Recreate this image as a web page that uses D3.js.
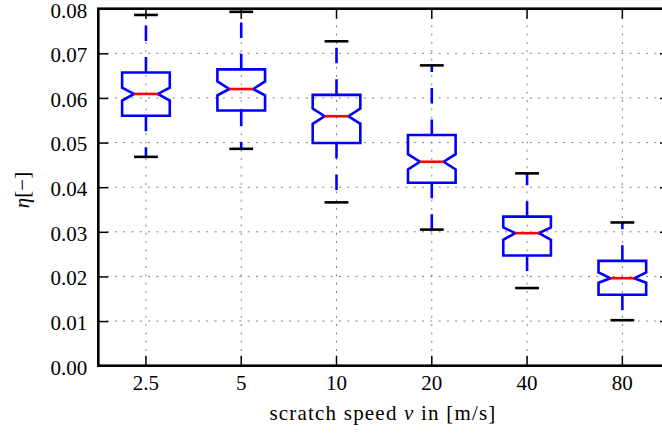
<!DOCTYPE html>
<html>
<head>
<meta charset="utf-8">
<script src="https://cdn.jsdelivr.net/npm/d3@7/dist/d3.min.js"></script>
<style>
  html, body { margin: 0; padding: 0; background: #fff; }
  svg { display: block; }
</style>
</head>
<body>
<svg id="chart" width="662" height="433"></svg>
<script>
// ---- data ----
const categories   = ["2.5", "5", "10", "20", "40", "80"];
const whiskerLow   = [0.0468, 0.0486, 0.0366, 0.0305, 0.0174, 0.0102];
const q1           = [0.0560, 0.0572, 0.0499, 0.0410, 0.0247, 0.0159];
const median       = [0.0609, 0.0620, 0.0559, 0.0457, 0.0297, 0.0196];
const q3           = [0.0657, 0.0664, 0.0607, 0.0517, 0.0334, 0.0235];
const whiskerHigh  = [0.0786, 0.0793, 0.0727, 0.0673, 0.0431, 0.0321];
const notchLow     = [0.0594, 0.0606, 0.0542, 0.0440, 0.0282, 0.0186];
const notchHigh    = [0.0623, 0.0637, 0.0576, 0.0474, 0.0310, 0.0209];
const yTicks       = [0, 0.01, 0.02, 0.03, 0.04, 0.05, 0.06, 0.07, 0.08];

const FONT = '"Liberation Serif", serif';
const FS = "21px";

const svg = d3.select("#chart");
const L = 98.3, R = 670, T = 8.7, B = 365.7;

const x = d3.scaleBand().domain(categories).range([L, R]).padding(0);
const y = d3.scaleLinear().domain([0, 0.08]).range([B, T]);
const cx = c => x(c) + x.bandwidth() / 2;
const bw = x.bandwidth() * 0.5;

// grid
const grid = svg.append("g");
grid.selectAll("line.gy").data(yTicks).join("line")
  .attr("x1", L).attr("x2", R).attr("y1", d => y(d)).attr("y2", d => y(d))
  .attr("stroke", "#808080").attr("stroke-width", 1).attr("stroke-dasharray", "2,6.3");
grid.selectAll("line.gx").data(categories).join("line")
  .attr("x1", cx).attr("x2", cx).attr("y1", T).attr("y2", B)
  .attr("stroke", "#808080").attr("stroke-width", 1).attr("stroke-dasharray", "2,6.3");

// boxes
const boxes = categories.map((c, i) => ({
  c, lo: whiskerLow[i], q1: q1[i], med: median[i], q3: q3[i], hi: whiskerHigh[i],
  nl: notchLow[i], nh: notchHigh[i]
}));

const g = svg.append("g");
const lw = 2.6;
// whiskers (dashed, drawn from box outward)
g.selectAll("line.wl").data(boxes).join("line")
  .attr("x1", d => cx(d.c)).attr("x2", d => cx(d.c))
  .attr("y1", d => y(d.q1)).attr("y2", d => y(d.lo))
  .attr("stroke", "#0000ff").attr("stroke-width", lw).attr("stroke-dasharray", "15.5,16");
g.selectAll("line.wh").data(boxes).join("line")
  .attr("x1", d => cx(d.c)).attr("x2", d => cx(d.c))
  .attr("y1", d => y(d.q3)).attr("y2", d => y(d.hi))
  .attr("stroke", "#0000ff").attr("stroke-width", lw).attr("stroke-dasharray", "15.5,16");
// caps
["lo", "hi"].forEach(k => {
  g.selectAll("line.cap" + k).data(boxes).join("line")
    .attr("x1", d => cx(d.c) - bw / 4).attr("x2", d => cx(d.c) + bw / 4)
    .attr("y1", d => y(d[k])).attr("y2", d => y(d[k]))
    .attr("stroke", "#000").attr("stroke-width", lw);
});
// notched boxes
g.selectAll("path.box").data(boxes).join("path")
  .attr("d", d => {
    const l = cx(d.c) - bw / 2, r = cx(d.c) + bw / 2;
    const il = cx(d.c) - bw / 4, ir = cx(d.c) + bw / 4;
    return d3.line()([
      [l, y(d.q1)], [l, y(d.nl)], [il, y(d.med)], [l, y(d.nh)], [l, y(d.q3)],
      [r, y(d.q3)], [r, y(d.nh)], [ir, y(d.med)], [r, y(d.nl)], [r, y(d.q1)]
    ]) + "Z";
  })
  .attr("fill", "none").attr("stroke", "#0000ff").attr("stroke-width", lw)
  .attr("stroke-linejoin", "miter");
// medians
g.selectAll("line.med").data(boxes).join("line")
  .attr("x1", d => cx(d.c) - bw / 4).attr("x2", d => cx(d.c) + bw / 4)
  .attr("y1", d => y(d.med)).attr("y2", d => y(d.med))
  .attr("stroke", "#ff0000").attr("stroke-width", lw);

// axes (ticks inward)
const tickLen = 10;
const ax = svg.append("g");
const yAxis = d3.axisLeft(y).tickValues(yTicks).tickFormat(d3.format(".2f")).tickSize(-tickLen).tickPadding(11);
const yG = ax.append("g").attr("transform", `translate(${L},0)`).call(yAxis);
const yAxisR = d3.axisRight(y).tickValues(yTicks).tickFormat("").tickSize(-tickLen);
ax.append("g").attr("transform", `translate(${R},0)`).call(yAxisR);
const xAxis = d3.axisBottom(x).tickSize(-tickLen).tickPadding(9);
ax.append("g").attr("transform", `translate(0,${B})`).call(xAxis);
const xAxisT = d3.axisTop(x).tickFormat("").tickSize(-tickLen);
ax.append("g").attr("transform", `translate(0,${T})`).call(xAxisT);

ax.selectAll("g").attr("font-family", null).attr("font-size", null);
ax.selectAll(".domain").remove();
ax.selectAll(".tick line").attr("stroke", "#000").attr("stroke-width", 1.5);
ax.selectAll(".tick text").style("font-family", FONT).style("font-size", FS).attr("fill", "#000");
yG.selectAll(".tick text").attr("dy", "0.4em");

// spines
svg.append("rect").attr("x", L).attr("y", T).attr("width", R - L).attr("height", B - T)
  .attr("fill", "none").attr("stroke", "#000").attr("stroke-width", 2.6);

// labels
const xl = svg.append("text").attr("x", 383).attr("y", 420)
  .attr("text-anchor", "middle").style("font-family", FONT).style("font-size", FS)
  .style("letter-spacing", "1.2px").attr("fill", "#000");
xl.append("tspan").text("scratch speed ");
xl.append("tspan").style("font-style", "italic").text("v");
xl.append("tspan").text(" in [m/s]");

const yl = svg.append("text").attr("transform", `translate(29,190) rotate(-90)`)
  .attr("text-anchor", "middle").style("font-family", FONT).style("font-size", FS).attr("fill", "#000");
yl.append("tspan").style("font-style", "italic").text("η");
yl.append("tspan").text("[−]");
</script>
</body>
</html>
